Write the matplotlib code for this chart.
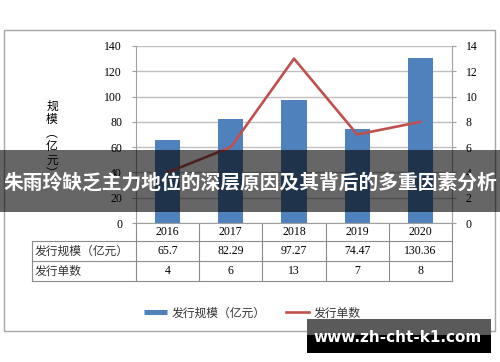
import matplotlib
matplotlib.use('Agg')
import matplotlib.pyplot as plt
from matplotlib.patches import Rectangle
from matplotlib.lines import Line2D

# data
years = ['2016', '2017', '2018', '2019', '2020']
scale = [65.7, 82.29, 97.27, 74.47, 130.36]   # 发行规模（亿元）
counts = [4, 6, 13, 7, 8]                      # 发行单数
row_names = ['发行规模（亿元）', '发行单数']
ylabel = '规模（亿元）'
title = '朱雨玲缺乏主力地位的深层原因及其背后的多重因素分析'
site = 'www.zh-cht-k1.com'

W, H = 500, 362


def fx(px):
    return px / W


def fy(py):
    return 1 - py / H


plt.rcParams['font.family'] = ['Liberation Serif', 'Noto Sans CJK SC']
cjk = ['Noto Sans CJK SC', 'DejaVu Sans']
grey = '#a0a0a0'

fig = plt.figure(figsize=(5, 3.62), dpi=100)

# outer chart frame
fig.patches.append(Rectangle((fx(4), fy(331)), fx(491), (331 - 30) / H,
                             transform=fig.transFigure, fill=False,
                             ec='#a6a6a6', lw=1))

ax = fig.add_axes([fx(136), fy(223), fx(452) - fx(136), (223 - 46) / H])
x = list(range(len(years)))
ax.bar(x, scale, width=0.4, color='#4f81bd', zorder=2)
ax.set_xlim(-0.5, len(years) - 0.5)
ax.set_ylim(0, 140)
ax.set_yticks(range(0, 141, 20))
ax.yaxis.grid(True, color='#bfbfbf', lw=1)
ax.set_axisbelow(True)
ax.set_xticks([])

ax2 = ax.twinx()
ax2.plot(x, counts, color='#c0504d', lw=1.9)
ax2.set_ylim(0, 14)
ax2.set_yticks(range(0, 15, 2))

for a in (ax, ax2):
    for s in a.spines.values():
        s.set_visible(False)
    a.tick_params(axis='y', length=3, color=grey, labelsize=8.5, pad=7)
ax.spines['left'].set_visible(True)
ax.spines['left'].set_color(grey)
ax.spines['bottom'].set_visible(True)
ax.spines['bottom'].set_color(grey)
ax2.spines['right'].set_visible(True)
ax2.spines['right'].set_color(grey)

# data table under the plot
tc = '#8c8c8c'
xl = (32 - 136) / 316
rows_y = [0, -0.1, -0.215, -0.328]
n = len(years)
for yy in rows_y[1:]:
    ax.plot([xl, 1], [yy, yy], color=tc, lw=0.8, transform=ax.transAxes, clip_on=False)
ax.plot([xl, xl], [rows_y[1], rows_y[3]], color=tc, lw=0.8, transform=ax.transAxes, clip_on=False)
for i in range(n + 1):
    ax.plot([i / n, i / n], [0, rows_y[3]], color=tc, lw=0.8, transform=ax.transAxes, clip_on=False)
for i in range(n):
    cx = (i + 0.5) / n
    ax.text(cx, (rows_y[0] + rows_y[1]) / 2, years[i], ha='center', va='center', fontsize=8.5, transform=ax.transAxes)
    ax.text(cx, (rows_y[1] + rows_y[2]) / 2, str(scale[i]), ha='center', va='center', fontsize=8.5, transform=ax.transAxes)
    ax.text(cx, (rows_y[2] + rows_y[3]) / 2, str(counts[i]), ha='center', va='center', fontsize=8.5, transform=ax.transAxes)
for j, name in enumerate(row_names):
    ax.text(xl + 3 / 316, (rows_y[j + 1] + rows_y[j + 2]) / 2, name, ha='left', va='center',
            fontsize=8.5, family=cjk, color='#333333', transform=ax.transAxes)

# vertical axis title
vert = ylabel.replace('（', '︵').replace('）', '︶')
fig.text(fx(52), fy(140), '\n'.join(vert), ha='center', va='center', fontsize=8.5,
         family=cjk, linespacing=1.05)

# legend
handles = [Line2D([], [], color='#4f81bd', lw=3.6, solid_capstyle='butt'),
           Line2D([], [], color='#c0504d', lw=1.9)]
fig.legend(handles, row_names, loc='center', bbox_to_anchor=(fx(252), fy(313)), ncol=2,
           frameon=False, handlelength=2.0, handletextpad=0.35, columnspacing=1.7,
           prop={'family': cjk, 'size': 8.5}, labelcolor='#333333')

# overlay banner
fig.patches.append(Rectangle((0, fy(212)), 1, 62 / H, transform=fig.transFigure,
                             color='black', alpha=0.6, lw=0, zorder=10))
fig.text(0.5, fy(183), title, color='white', fontsize=14.2, weight='bold', family=cjk,
         ha='center', va='center', zorder=11)

# watermark
fig.patches.append(Rectangle((fx(307), fy(335)), fx(184), 16 / H, transform=fig.transFigure,
                             color='#5a5a5a', lw=0, zorder=10))
fig.patches.append(Rectangle((fx(307), fy(353)), fx(184), 18 / H, transform=fig.transFigure,
                             color='black', lw=0, zorder=10))
fig.text(fx(398), fy(337), site, color='white', fontsize=11, weight='bold',
         family=['DejaVu Sans'], ha='center', va='center', zorder=11)

fig.savefig('out.png', dpi=100)
